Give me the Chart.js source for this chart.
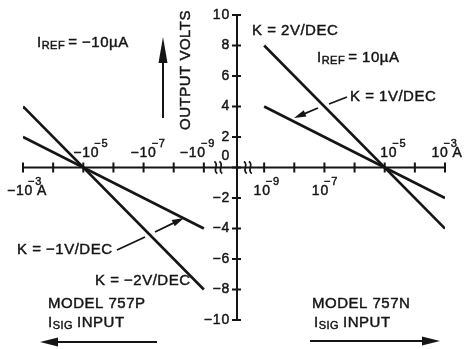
<!DOCTYPE html>
<html>
<head>
<meta charset="utf-8">
<script src="https://cdn.jsdelivr.net/npm/chart.js@4"></script>
<style>
  html, body { margin: 0; padding: 0; background: #fff; }
  #wrap { width: 472px; height: 349px; position: relative; }
</style>
</head>
<body>
<div id="wrap"><canvas id="chart"></canvas></div>
<script>
// Decade exponents of the signal current (10^exp A) on each half of the axis
const leftExponents = [-3, -4, -5, -6, -7, -8, -9];
const rightExponents = [-9, -8, -7, -6, -5, -4, -3];

// Output volts ticks
const voltTicks = [-10, -8, -6, -4, -2, 0, 2, 4, 6, 8, 10];

// Model 757P (negative input current): end points of each line
const pExponents = [-3, -9];
const pK1Volts = [2, -4];   // K = -1V/DEC
const pK2Volts = [4, -8];   // K = -2V/DEC

// Model 757N (positive input current)
const nExponents = [-9, -3];
const nK1Volts = [4, -2];   // K = 1V/DEC
const nK2Volts = [8, -4];   // K = 2V/DEC

// Which decades carry a label
const leftAboveLabels = [-5, -7, -9];
const leftBelowLabels = [-3];
const rightAboveLabels = [-5, -3];
const rightBelowLabels = [-9, -7];

// position of a decade on the broken axis (one unit per decade)
const decadePos = (side, exp) => side < 0 ? -(1.1 + exp + 9) : 0.9 + exp + 9;

const toPoints = (side, exps, volts) => exps.map((e, i) => ({ x: decadePos(side, e), y: volts[i] }));

const INK = '#151515';
const SANS = '"Liberation Sans", Arial, Helvetica, sans-serif';

// filled text with a thin outline, the scan has heavy type
const inkText = (ctx, t, x, y) => {
    ctx.fillText(t, x, y);
    ctx.strokeText(t, x, y);
};

// draw text made of parts, each with its own size and vertical shift
const drawParts = (ctx, parts, x, y) => {
    let cx = x;
    parts.forEach(p => {
        ctx.font = `${p.size || 15}px ${SANS}`;
        inkText(ctx, p.t, cx, y + (p.dy || 0));
        cx += ctx.measureText(p.t).width + (p.gap || 0);
    });
};

const arrow = (ctx, x1, y1, x2, y2, len, half) => {
    const a = Math.atan2(y2 - y1, x2 - x1);
    ctx.beginPath();
    ctx.moveTo(x1, y1);
    ctx.lineTo(x2 - Math.cos(a) * len * 0.8, y2 - Math.sin(a) * len * 0.8);
    ctx.stroke();
    ctx.beginPath();
    ctx.moveTo(x2, y2);
    ctx.lineTo(x2 - Math.cos(a) * len + Math.sin(a) * half, y2 - Math.sin(a) * len - Math.cos(a) * half);
    ctx.lineTo(x2 - Math.cos(a) * len - Math.sin(a) * half, y2 - Math.sin(a) * len + Math.cos(a) * half);
    ctx.closePath();
    ctx.fill();
};

const axesPlugin = {
    id: 'brokenAxes',
    beforeDatasetsDraw(chart) {
        const { ctx, scales: { x, y } } = chart;
        const x0 = x.getPixelForValue(0);
        const y0 = y.getPixelForValue(0);
        ctx.save();
        ctx.strokeStyle = INK;
        ctx.fillStyle = INK;
        ctx.lineWidth = 2;

        // horizontal axis
        ctx.beginPath();
        ctx.moveTo(x.getPixelForValue(decadePos(-1, -3)), y0);
        ctx.lineTo(x.getPixelForValue(decadePos(1, -3)), y0);
        ctx.stroke();
        [[-1, leftExponents], [1, rightExponents]].forEach(([side, exps]) => {
            exps.forEach(e => {
                const px = x.getPixelForValue(decadePos(side, e));
                ctx.beginPath();
                ctx.moveTo(px, y0 - 5);
                ctx.lineTo(px, y0 + 5);
                ctx.stroke();
            });
        });

        // axis break marks
        ctx.lineWidth = 1.7;
        [-0.62, 0.36].forEach(b => {
            const bx = x.getPixelForValue(b);
            [-2.5, 2.5].forEach(off => {
                const cx = bx + off;
                ctx.beginPath();
                ctx.moveTo(cx - 1.5, y0 - 6);
                ctx.bezierCurveTo(cx + 4, y0 - 3, cx - 4, y0 + 3, cx + 1.5, y0 + 6);
                ctx.stroke();
            });
        });

        // vertical axis
        ctx.lineWidth = 2;
        ctx.beginPath();
        ctx.moveTo(x0, y.getPixelForValue(10));
        ctx.lineTo(x0, y.getPixelForValue(-10));
        ctx.stroke();
        voltTicks.forEach(v => {
            const py = y.getPixelForValue(v);
            ctx.beginPath();
            ctx.moveTo(x0 - 5, py);
            ctx.lineTo(x0 + 4, py);
            ctx.stroke();
        });

        ctx.lineWidth = 0.45;
        if ('letterSpacing' in ctx) ctx.letterSpacing = '0.8px';
        ctx.font = `14px ${SANS}`;
        ctx.textAlign = 'right';
        voltTicks.forEach(v => {
            const py = y.getPixelForValue(v);
            const label = String(v).replace('-', '\u2212');
            if (v === 0) {
                ctx.textBaseline = 'alphabetic';
                inkText(ctx, label, x0 - 7, py - 8);
            } else {
                ctx.textBaseline = 'middle';
                inkText(ctx, label, x0 - 7, py);
            }
        });

        // decade labels
        ctx.textAlign = 'left';
        ctx.textBaseline = 'alphabetic';
        const decadeLabel = (side, e, above, dx, unit) => {
            const px = x.getPixelForValue(decadePos(side, e)) + dx;
            const base = side < 0 ? '\u221210' : '10';
            ctx.font = `14px ${SANS}`;
            const w = ctx.measureText(base).width;
            const bx = px - w / 2;
            const by = above ? y0 - 11 : y0 + 27;
            inkText(ctx, base, bx, by);
            ctx.font = `11px ${SANS}`;
            inkText(ctx, '\u2212' + Math.abs(e), bx + w - 5, by - 10);
            if (unit) {
                ctx.font = `14px ${SANS}`;
                inkText(ctx, unit, bx + w + 4, by);
            }
        };
        const leftAboveDx = { '-5': 3, '-7': 0, '-9': -11 };
        leftAboveLabels.forEach(e => decadeLabel(-1, e, true, leftAboveDx[e]));
        leftBelowLabels.forEach(e => decadeLabel(-1, e, false, -3, 'A'));
        rightAboveLabels.forEach(e => decadeLabel(1, e, true, e === -3 ? -5 : 4, e === -3 ? 'A' : null));
        rightBelowLabels.forEach(e => decadeLabel(1, e, false, e === -9 ? -2 : -4));
        ctx.restore();
    },
    afterDraw(chart) {
        const { ctx } = chart;
        ctx.save();
        ctx.fillStyle = INK;
        ctx.strokeStyle = INK;
        ctx.lineWidth = 0.45;
        ctx.textBaseline = 'alphabetic';
        ctx.textAlign = 'left';
        if ('letterSpacing' in ctx) ctx.letterSpacing = '0.5px';

        // left half annotations
        drawParts(ctx, [{ t: 'I' }, { t: 'REF', size: 11, dy: 2, gap: 3 }, { t: '= \u221210\u00b5A' }], 37, 47);
        drawParts(ctx, [{ t: 'K = \u22121V/DEC' }], 17, 254);
        drawParts(ctx, [{ t: 'K = \u22122V/DEC' }], 95, 285);
        drawParts(ctx, [{ t: 'MODEL 757P' }], 48, 308);
        drawParts(ctx, [{ t: 'I' }, { t: 'SIG', size: 11, dy: 2, gap: 4 }, { t: 'INPUT' }], 48, 327);

        // right half annotations
        drawParts(ctx, [{ t: 'K = 2V/DEC' }], 252, 35);
        drawParts(ctx, [{ t: 'I' }, { t: 'REF', size: 11, dy: 2, gap: 3 }, { t: '= 10\u00b5A' }], 317, 62);
        drawParts(ctx, [{ t: 'K = 1V/DEC' }], 350, 101);
        drawParts(ctx, [{ t: 'MODEL 757N' }], 312, 308);
        drawParts(ctx, [{ t: 'I' }, { t: 'SIG', size: 11, dy: 2, gap: 4 }, { t: 'INPUT' }], 314, 327);

        // output volts title with arrow
        ctx.save();
        ctx.translate(190, 70);
        ctx.rotate(-Math.PI / 2);
        ctx.textAlign = 'center';
        ctx.font = `15px ${SANS}`;
        inkText(ctx, 'OUTPUT VOLTS', 0, 0);
        ctx.restore();

        ctx.lineWidth = 2;
        arrow(ctx, 163, 118, 163, 37, 26, 4.5);

        // leader lines and pointers
        ctx.lineWidth = 1.8;
        ctx.beginPath();
        ctx.moveTo(347, 97);
        ctx.lineTo(329, 104);
        ctx.stroke();
        arrow(ctx, 318, 108, 294, 118, 12, 3.5);
        ctx.beginPath();
        ctx.moveTo(117, 250);
        ctx.lineTo(145, 237);
        ctx.stroke();
        arrow(ctx, 155, 232, 184, 218, 12, 3.5);

        // direction arrows along the bottom
        ctx.lineWidth = 2;
        arrow(ctx, 157, 342, 40, 342, 18, 4.5);
        arrow(ctx, 310, 341, 440, 341, 18, 4.5);
        ctx.restore();
    }
};

const lineSet = (data) => ({
    data,
    showLine: true,
    borderColor: INK,
    borderWidth: 2.6,
    pointRadius: 0,
    fill: false
});

new Chart(document.getElementById('chart'), {
    type: 'scatter',
    data: {
        datasets: [
            lineSet(toPoints(-1, pExponents, pK1Volts)),
            lineSet(toPoints(-1, pExponents, pK2Volts)),
            lineSet(toPoints(1, nExponents, nK1Volts)),
            lineSet(toPoints(1, nExponents, nK2Volts))
        ]
    },
    options: {
        responsive: true,
        maintainAspectRatio: false,
        animation: false,
        layout: { padding: { left: 23, right: 27, top: 15, bottom: 29 } },
        scales: {
            x: { type: 'linear', min: -7.1, max: 6.9, display: false },
            y: { type: 'linear', min: -10, max: 10, display: false }
        },
        plugins: {
            legend: { display: false },
            tooltip: { enabled: false }
        }
    },
    plugins: [axesPlugin]
});
</script>
</body>
</html>
